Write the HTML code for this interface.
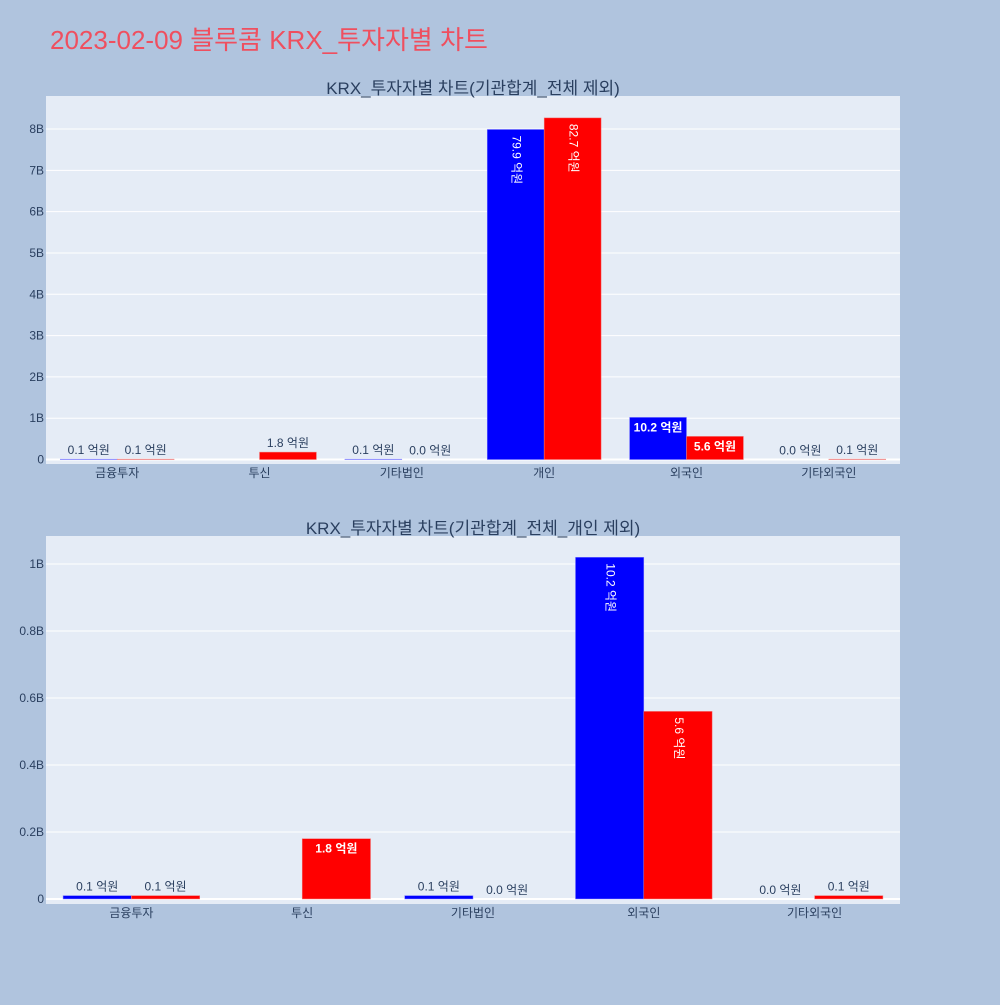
<!DOCTYPE html>
<html><head><meta charset="utf-8"><style>
body{margin:0;background:#b0c4de;}
svg text{font-family:"Liberation Sans","Noto Sans CJK KR",sans-serif;}
</style></head><body>
<svg id="s" width="1000" height="1000" xmlns="http://www.w3.org/2000/svg">
<rect width="1000" height="1000" fill="#b0c4de"/>
<text x="50" y="49" font-size="26" fill="#ef4f5f">2023-02-09 블루콤 KRX_투자자별 차트</text>
</svg>
<script>
const cats1=["금융투자","투신","기타법인","개인","외국인","기타외국인"];
const buy1=[0.01,0,0.01,7.99,1.02,0.0];
const sell1=[0.01,0.18,0.0,8.27,0.56,0.01];
const buyLbl1=["0.1 억원","","0.1 억원","79.9 억원","10.2 억원","0.0 억원"];
const sellLbl1=["0.1 억원","1.8 억원","0.0 억원","82.7 억원","5.6 억원","0.1 억원"];
const ticks1=[0,1,2,3,4,5,6,7,8];
const tickLbl1=["0","1B","2B","3B","4B","5B","6B","7B","8B"];
const cats2=["금융투자","투신","기타법인","외국인","기타외국인"];
const buy2=[0.01,0,0.01,1.02,0.0];
const sell2=[0.01,0.18,0.0,0.56,0.01];
const buyLbl2=["0.1 억원","","0.1 억원","10.2 억원","0.0 억원"];
const sellLbl2=["0.1 억원","1.8 억원","0.0 억원","5.6 억원","0.1 억원"];
const ticks2=[0,0.2,0.4,0.6,0.8,1];
const tickLbl2=["0","0.2B","0.4B","0.6B","0.8B","1B"];
const NS="http://www.w3.org/2000/svg";
const svg=document.getElementById('s');
function mk(t,a,txt){const e=document.createElementNS(NS,t);for(const k in a)e.setAttribute(k,a[k]);if(txt!==undefined)e.textContent=txt;svg.appendChild(e);return e;}
function chart(o){
  const {x0,x1,y0,y1,ymin,ymax,cats,buy,sell,bl,sl,ticks,tl,title,id}=o;
  const ys=v=>y1-(v-ymin)/(ymax-ymin)*(y1-y0);
  const cw=(x1-x0)/cats.length, bw=cw*0.4;
  let r=mk('rect',{x:x0,y:y0,width:x1-x0,height:y1-y0,fill:'#e5ecf6'});
  
  let t=mk('text',{x:(x0+x1)/2,y:y0-2,'text-anchor':'middle','font-size':17,fill:'#2a3f5f'},title);
  
  ticks.forEach((v,i)=>{
    let g=mk('line',{x1:x0,x2:x1,y1:ys(v),y2:ys(v),stroke:'#fff','stroke-width':v===0?2:1});
    
    let l=mk('text',{x:x0-2,y:ys(v)+4,'text-anchor':'end','font-size':12,fill:'#2a3f5f'},tl[i]);
    
  });
  const zero=ys(0);
  cats.forEach((c,i)=>{
    const cx=x0+cw*(i+0.5);
    [[buy[i],bl[i],'#0000ff',cx-bw],[sell[i],sl[i],'#ff0000',cx]].forEach(([v,lab,col,bx],k)=>{
      const top=ys(v),h=Math.max(zero-top,0);
      let b=mk('rect',{x:bx,y:top,width:bw,height:h,fill:col,stroke:col==='#ff0000'?'#f08080':'#8080ff','stroke-width':0.5});
      
      if(!lab)return;
      const mx=bx+bw/2;let tx;
      if(h>150){
        tx=mk('text',{x:mx,y:top+6,'font-size':12,fill:'#fff',transform:`rotate(90 ${mx} ${top+6})`,'dominant-baseline':'middle'},lab);
      }else if(h>22){
        tx=mk('text',{x:mx,y:top+14,'text-anchor':'middle','font-size':12,'font-weight':'bold',fill:'#fff'},lab);
      }else{
        tx=mk('text',{x:mx,y:top-5,'text-anchor':'middle','font-size':12,fill:'#2a3f5f'},lab);
      }
      
    });
    let xl=mk('text',{x:cx,y:y1+13,'text-anchor':'middle','font-size':12,fill:'#2a3f5f'},c);
    
  });
}
chart({x0:46,x1:900,y0:96,y1:464,ymin:-0.108,ymax:8.8,cats:cats1,buy:buy1,sell:sell1,bl:buyLbl1,sl:sellLbl1,ticks:ticks1,tl:tickLbl1,title:"KRX_투자자별 차트(기관합계_전체 제외)",id:"top-chart"});
chart({x0:46,x1:900,y0:536,y1:904,ymin:-0.015,ymax:1.0836,cats:cats2,buy:buy2,sell:sell2,bl:buyLbl2,sl:sellLbl2,ticks:ticks2,tl:tickLbl2,title:"KRX_투자자별 차트(기관합계_전체_개인 제외)",id:"bottom-chart"});
</script>
</body></html>
